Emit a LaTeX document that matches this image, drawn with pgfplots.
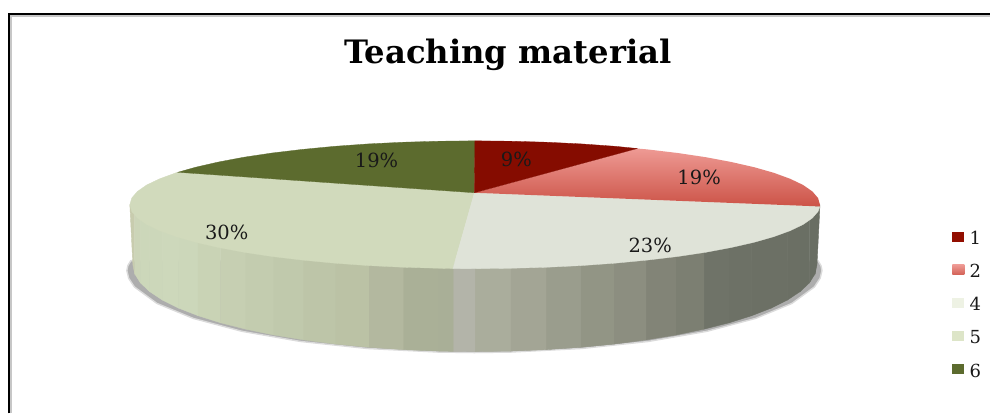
\documentclass[border=0pt]{standalone}
\usepackage{pgfplots}
\pgfplotsset{compat=1.18}
\usepackage{fontspec}
\setmainfont{DejaVu Serif}
\definecolor{a0}{HTML}{696E63}\definecolor{a1}{HTML}{696E63}\definecolor{a2}{HTML}{6A6F64}\definecolor{a3}{HTML}{6B6F64}
\definecolor{a4}{HTML}{6C7065}\definecolor{a5}{HTML}{6C7065}\definecolor{a6}{HTML}{6D7166}\definecolor{a7}{HTML}{6F7368}
\definecolor{a8}{HTML}{7C7F72}\definecolor{a9}{HTML}{828477}\definecolor{a10}{HTML}{8C8E80}\definecolor{a11}{HTML}{929585}
\definecolor{a12}{HTML}{9A9D8D}\definecolor{a13}{HTML}{A3A595}\definecolor{a14}{HTML}{AAAD9C}\definecolor{a15}{HTML}{B3B4A9}
\definecolor{b0}{HTML}{A9AF97}\definecolor{b1}{HTML}{AAB097}\definecolor{b2}{HTML}{B3B89F}\definecolor{b3}{HTML}{BBC2A5}
\definecolor{b4}{HTML}{BDC5A8}\definecolor{b5}{HTML}{C0C9AC}\definecolor{b6}{HTML}{C3CCAF}\definecolor{b7}{HTML}{C6CFB2}
\definecolor{b8}{HTML}{C9D3B5}\definecolor{b9}{HTML}{CCD7BA}\definecolor{b10}{HTML}{CDD8BB}\definecolor{b11}{HTML}{CCD7BA}
\definecolor{b12}{HTML}{CCD7BA}\definecolor{b13}{HTML}{CCD5B8}\definecolor{b14}{HTML}{C8CCAE}
\definecolor{s1}{HTML}{850C00}\definecolor{s2t}{HTML}{EE9A94}\definecolor{s2b}{HTML}{CC5347}
\definecolor{s4}{HTML}{DFE3D8}\definecolor{s5}{HTML}{D1DABC}\definecolor{s6}{HTML}{5C6B2E}
\definecolor{l4}{HTML}{EEF2E4}\definecolor{l5}{HTML}{DDE5C8}\definecolor{l1}{HTML}{920E00}
\newcommand{\band}[5]{\addplot[fill=#1,draw=#1,line width=.4pt] coordinates {#2 #3 #4 #5} --cycle;}
\newcommand{\lab}[3]{\node[font=\fontsize{#3}{#3}\selectfont,text=black!90] at (axis cs:#1) {#2};}
\begin{document}
\begin{tikzpicture}
\begin{axis}[scale only axis,width=991pt,height=414pt,xmin=0,xmax=991,ymin=0,ymax=414,y dir=reverse,hide axis,clip=false]
\addplot[fill=white,draw=none] coordinates {(0,0)(991,0)(991,414)(0,414)} --cycle;
% frame
\addplot[draw=black!22,line width=1.5pt] coordinates {(11.2,414)(11.2,16)(991,16)};
\addplot[draw=black,line width=2.5pt] coordinates {(9.2,414)(9.2,14.2)(991,14.2)};
% shadow
\addplot[fill=black!32,draw=black!14,line width=1.4pt,line join=round] coordinates {(819,261)(822,266)(823,271)(821.1,278.7)(815.4,287.3)(792.9,303.8)(756.5,318.8)(707.9,331.7)(649,341.9)(582.5,348.9)(511.4,352.5)(475,353)(438.6,352.5)(367.5,348.9)(301,341.9)(242.1,331.7)(193.5,318.8)(157.1,303.8)(134.6,287.3)(128.9,278.7)(127,271)(128,266)(131,261)} --cycle;
% side of slice 4
\band{a0}{(821,205)}{(816.1,205)}{(816.1,274.1)}{(818,265)}
\band{a1}{(816.1,206)}{(810.5,212)}{(810.5,283.1)}{(816.1,274.1)}
\band{a2}{(810.5,212)}{(801.2,219)}{(801.2,291.9)}{(810.5,283.1)}
\band{a3}{(801.2,219)}{(788.4,225)}{(788.4,300.4)}{(801.2,291.9)}
\band{a4}{(788.4,225)}{(772.1,231)}{(772.1,308.5)}{(788.4,300.4)}
\band{a5}{(772.1,231)}{(752.6,237)}{(752.6,316.1)}{(772.1,308.5)}
\band{a6}{(752.6,237)}{(730,242)}{(730,323.2)}{(752.6,316.1)}
\band{a7}{(730,242)}{(704.7,247)}{(704.7,329.6)}{(730,323.2)}
\band{a8}{(704.7,247)}{(676.8,251)}{(676.8,335.4)}{(704.7,329.6)}
\band{a9}{(676.8,251)}{(646.8,254)}{(646.8,340.3)}{(676.8,335.4)}
\band{a10}{(646.8,254)}{(614.8,257)}{(614.8,344.5)}{(646.8,340.3)}
\band{a11}{(614.8,257)}{(581.3,260)}{(581.3,347.7)}{(614.8,344.5)}
\band{a12}{(581.3,260)}{(546.7,262)}{(546.7,350.1)}{(581.3,347.7)}
\band{a13}{(546.7,262)}{(511.3,263)}{(511.3,351.5)}{(546.7,350.1)}
\band{a14}{(511.3,263)}{(475.5,263)}{(475.5,352)}{(511.3,351.5)}
\band{a15}{(475.5,263)}{(453.7,263)}{(453.7,351.8)}{(475.5,352)}
% side of slice 5
\band{b14}{(130,205)}{(134.9,205)}{(134.9,274.1)}{(133,265)}
\band{b13}{(134.9,206)}{(140.5,212)}{(140.5,283.1)}{(134.9,274.1)}
\band{b12}{(140.5,212)}{(149.8,219)}{(149.8,291.9)}{(140.5,283.1)}
\band{b11}{(149.8,219)}{(162.6,225)}{(162.6,300.4)}{(149.8,291.9)}
\band{b10}{(162.6,225)}{(178.9,231)}{(178.9,308.5)}{(162.6,300.4)}
\band{b9}{(178.9,231)}{(198.4,237)}{(198.4,316.1)}{(178.9,308.5)}
\band{b8}{(198.4,237)}{(221,242)}{(221,323.2)}{(198.4,316.1)}
\band{b7}{(221,242)}{(246.3,247)}{(246.3,329.6)}{(221,323.2)}
\band{b6}{(246.3,247)}{(274.2,251)}{(274.2,335.4)}{(246.3,329.6)}
\band{b5}{(274.2,251)}{(304.2,254)}{(304.2,340.3)}{(274.2,335.4)}
\band{b4}{(304.2,254)}{(336.2,257)}{(336.2,344.5)}{(304.2,340.3)}
\band{b3}{(336.2,257)}{(369.7,260)}{(369.7,347.7)}{(336.2,344.5)}
\band{b2}{(369.7,260)}{(404.3,262)}{(404.3,350.1)}{(369.7,347.7)}
\band{b1}{(404.3,262)}{(439.7,263)}{(439.7,351.5)}{(404.3,350.1)}
\band{b0}{(439.7,263)}{(453.7,263)}{(453.7,351.8)}{(439.7,351.5)}
% top faces
\addplot[fill=s5,draw=s5,line width=.3pt] coordinates {(475,193)(178,172.5)(176.3,173)(159.9,179)(146.9,185.2)(137.6,191.7)(131.9,198.3)(130,205)(131.9,211.7)(137.6,218.3)(146.9,224.8)(159.9,231)(176.3,237)(196,242.6)(218.8,247.8)(244.3,252.6)(272.4,256.8)(302.7,260.4)(335,263.5)(368.7,265.9)(403.7,267.6)(439.4,268.6)(453.5,268.9)} --cycle;
\addplot[fill=s4,draw=s4,line width=.3pt] coordinates {(475,193)(821,206.7)(819.1,211.7)(813.4,218.3)(804.1,224.8)(791.1,231)(774.7,237)(755,242.6)(732.2,247.8)(706.7,252.6)(678.6,256.8)(648.3,260.4)(616,263.5)(582.3,265.9)(547.3,267.6)(511.6,268.6)(475.5,269)(453.5,268.9)} --cycle;
\addplot[top color=s2t,bottom color=s2b,draw=none] coordinates {(475,193)(638,148.7)(648.3,149.6)(678.6,153.2)(706.7,157.4)(732.2,162.2)(755,167.4)(774.7,173)(791.1,179)(804.1,185.2)(813.4,191.7)(819.1,198.3)(821,205)(821,206.7)} --cycle;
\addplot[fill=s6,draw=s6,line width=.3pt] coordinates {(475,193)(475.5,141)(439.4,141.4)(403.7,142.4)(368.7,144.1)(335,146.5)(302.7,149.6)(272.4,153.2)(244.3,157.4)(218.8,162.2)(196,167.4)(178,172.5)} --cycle;
\addplot[fill=s1,draw=s1,line width=.3pt] coordinates {(475,193)(475.5,141)(511.6,141.4)(547.3,142.4)(582.3,144.1)(616,146.5)(638,148.7)} --cycle;
% legend
\addplot[fill=l1,draw=none] coordinates {(953.5,232)(965.5,232)(965.5,242)(953.5,242)} --cycle;
\addplot[top color=s2t,bottom color=s2b!80!s2t,draw=none] coordinates {(953.5,265)(965.5,265)(965.5,275)(953.5,275)} --cycle;
\addplot[fill=l4,draw=none] coordinates {(953.5,298)(965.5,298)(965.5,308)(953.5,308)} --cycle;
\addplot[fill=l5,draw=none] coordinates {(953.5,331)(965.5,331)(965.5,341)(953.5,341)} --cycle;
\addplot[fill=s6,draw=none] coordinates {(953.5,364)(965.5,364)(965.5,374)(953.5,374)} --cycle;
% text
\node[font=\fontsize{32.3}{32.3}\selectfont\bfseries,text=black] at (axis cs:508.5,55) {Teaching material};
\lab{517,160}{9\%}{19.5}
\lab{700,178}{19\%}{19.5}
\lab{651,246}{23\%}{19.5}
\lab{227,233}{30\%}{19.5}
\lab{377,161}{19\%}{19.5}
\lab{976.5,238}{1}{18}
\lab{976.5,271}{2}{18}
\lab{976.5,304}{4}{18}
\lab{976.5,337}{5}{18}
\lab{976.5,371}{6}{18}
\end{axis}
\end{tikzpicture}
\end{document}
